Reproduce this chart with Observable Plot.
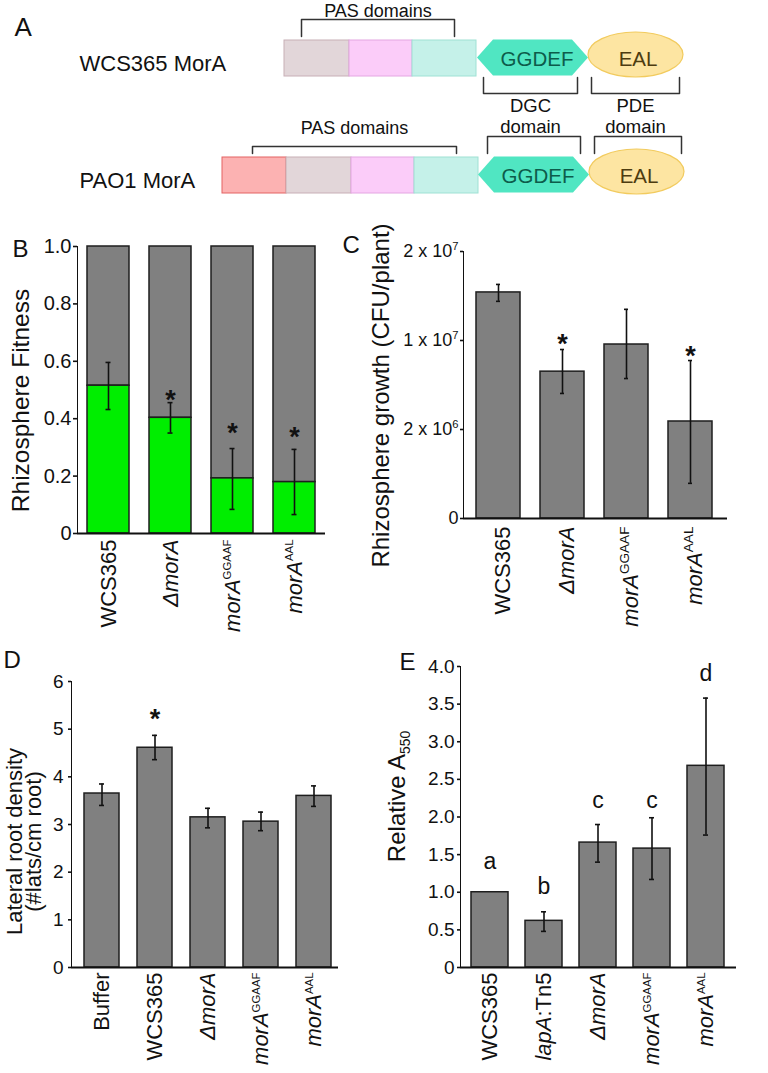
<!DOCTYPE html>
<html><head><meta charset="utf-8">
<script src="https://cdn.jsdelivr.net/npm/d3@7"></script>
<script src="https://cdn.jsdelivr.net/npm/@observablehq/plot@0.6"></script>
<style>
body{margin:0;background:#fff}
#fig{position:relative;width:768px;height:1073px;background:#fff;overflow:hidden}
#fig svg g[aria-label^="y-axis"] line, #fig svg g[aria-label^="y-axis"] path{stroke-width:1.6px}
#fig svg g[aria-label^="y-axis"]{font-size:inherit;font-family:inherit}
#fig svg g[aria-label="frame"], #fig svg g[aria-label="frame"] *{stroke-width:1.8px}
</style></head>
<body><div id="fig"></div>
<script>
// ---------- Panel A: MorA domain architecture ----------
const proteins = ["WCS365 MorA", "PAO1 MorA"];
const wcsDomains = [
  {domain: "PAS", kind: "pasB", start: 284, end: 349},
  {domain: "PAS", kind: "pasC", start: 349, end: 412},
  {domain: "PAS", kind: "pasD", start: 412, end: 476},
  {domain: "GGDEF", kind: "ggdef", start: 477, end: 588},
  {domain: "EAL", kind: "eal", start: 588, end: 683}
];
const paoDomains = [
  {domain: "PAS", kind: "pasA", start: 222, end: 286},
  {domain: "PAS", kind: "pasB", start: 286, end: 351},
  {domain: "PAS", kind: "pasC", start: 351, end: 414},
  {domain: "PAS", kind: "pasD", start: 414, end: 478},
  {domain: "GGDEF", kind: "ggdef", start: 478, end: 589},
  {domain: "EAL", kind: "eal", start: 589, end: 684}
];
const brackets = [
  {protein: "WCS365 MorA", label: "PAS domains", start: 301, end: 454, side: "above", reach: 39},
  {protein: "WCS365 MorA", label: "DGC\ndomain", start: 483, end: 577, side: "below", reach: 35},
  {protein: "WCS365 MorA", label: "PDE\ndomain", start: 591, end: 679, side: "below", reach: 35},
  {protein: "PAO1 MorA", label: "PAS domains", start: 252, end: 456, side: "above", reach: 29},
  {protein: "PAO1 MorA", label: "", start: 487, end: 580, side: "above", reach: 39},
  {protein: "PAO1 MorA", label: "", start: 594, end: 681, side: "above", reach: 39}
];

// ---------- Panel B: rhizosphere fitness (competition) ----------
const bStrains = ["WCS365", "ΔmorA", "morA^GGAAF", "morA^AAL"];
const bFitness = [0.515, 0.403, 0.192, 0.179];
const bErrLow  = [0.432, 0.350, 0.084, 0.066];
const bErrHigh = [0.596, 0.456, 0.296, 0.293];
const bStars   = [null, 0.49, 0.373, 0.359];
const bTicks   = [0, 0.2, 0.4, 0.6, 0.8, 1.0];

// ---------- Panel C: rhizosphere growth ----------
const cStrains = ["WCS365", "ΔmorA", "morA^GGAAF", "morA^AAL"];
const cGrowth  = [1.54e7, 7.2e6, 9.64e6, 2.72e6];
const cErrLow  = [1.44e7, 5.24e6, 6.58e6, 7.9e5];
const cErrHigh = [1.63e7, 9.19e6, 1.35e7, 8.2e6];
const cStars   = [null, 1.034e7, null, 9.19e6];
const cTickValues = [0, 2e6, 1e7, 2e7];
const cTickLabels = ["0", "2 x 10^6", "1 x 10^7", "2 x 10^7"];

// ---------- Panel D: lateral root density ----------
const dStrains = ["Buffer", "WCS365", "ΔmorA", "morA^GGAAF", "morA^AAL"];
const dDensity = [3.65, 4.61, 3.15, 3.06, 3.60];
const dErrLow  = [3.40, 4.36, 2.93, 2.87, 3.38];
const dErrHigh = [3.85, 4.87, 3.34, 3.26, 3.81];
const dStars   = [null, 5.35, null, null, null];
const dTicks   = [0, 1, 2, 3, 4, 5, 6];

// ---------- Panel E: biofilm (relative A550) ----------
const eStrains = ["WCS365", "lapA:Tn5", "ΔmorA", "morA^GGAAF", "morA^AAL"];
const eA550    = [1.00, 0.62, 1.66, 1.58, 2.68];
const eErrLow  = [null, 0.48, 1.40, 1.17, 1.76];
const eErrHigh = [null, 0.74, 1.90, 1.99, 3.58];
const eGroups  = ["a", "b", "c", "c", "d"];
const eGroupY  = [1.41, 1.08, 2.22, 2.22, 3.90];
const eTicks   = [0, 0.5, 1.0, 1.5, 2.0, 2.5, 3.0, 3.5, 4.0];

// ================= rendering =================
const FONT = "'Liberation Sans', Arial, Helvetica, sans-serif";
const W = 768, H = 1073;
const fig = document.getElementById("fig");
const INK = "#111";
function svgStyle(fs) {
  return `position:absolute;left:0;top:0;background:transparent;overflow:visible;max-width:none;font-family:${FONT};font-size:${fs}px;color:${INK};`;
}
function richify(svg, defaultFs, supScale) {
  const ns = "http://www.w3.org/2000/svg";
  svg.querySelectorAll("text").forEach(t => {
    if (t.querySelector("tspan")) return;
    const s = t.textContent;
    if (!/[\^_]|morA|lapA/.test(s)) return;
    const holder = t.closest("[font-size]");
    const lab = holder ? (holder.getAttribute("aria-label") || "") : "";
    const fs = holder && holder !== svg && !lab.includes("axis") ? parseFloat(holder.getAttribute("font-size")) : defaultFs;
    const m = s.match(/^([^\^_]*)(?:([\^_])(.*))?$/);
    t.textContent = "";
    m[1].split(/(Δ?morA|lapA)/).forEach(part => {
      if (!part) return;
      const sp = document.createElementNS(ns, "tspan");
      if (/morA|lapA/.test(part)) sp.setAttribute("font-style", "italic");
      sp.textContent = part;
      t.appendChild(sp);
    });
    if (m[2]) {
      const sup = m[2] === "^";
      const sp = document.createElementNS(ns, "tspan");
      sp.setAttribute("font-size", (fs * (sup ? supScale : 0.58)).toFixed(1));
      sp.setAttribute("dy", ((sup ? -0.38 : 0.2) * fs).toFixed(1));
      sp.textContent = m[3];
      t.appendChild(sp);
    }
  });
}
function add(svg, fs, supScale = 0.52) {
  svg.style.background = "transparent";
  fig.appendChild(svg);
  richify(svg, fs, supScale);
}
const xLabelOpts = {frameAnchor: "bottom", rotate: -90, textAnchor: "end", lineAnchor: "middle", fontSize: 22};
const yLabelOpts = {frameAnchor: "left", rotate: -90, textAnchor: "middle", lineAnchor: "middle"};
const letterOpts = {frameAnchor: "top-left", textAnchor: "start", lineAnchor: "middle", fontSize: 24};
const starOpts = {text: () => "*", fontSize: 27, fontWeight: "bold", lineAnchor: "middle", dy: 7};

// ----- Panel A -----
{
  const rowY = {"WCS365 MorA": 58, "PAO1 MorA": 175};
  const fillOf = {pasA: "#fcb2b2", pasB: "#e2d6d9", pasC: "#fbccf9", pasD: "#c5f1e9"};
  const strokeOf = {pasA: "#e46262", pasB: "#c8afb6", pasC: "#e4a6e2", pasD: "#9fe1d4"};
  const all = [
    ...wcsDomains.map(d => ({...d, protein: proteins[0]})),
    ...paoDomains.map(d => ({...d, protein: proteins[1]}))
  ];
  const pas = all.filter(d => d.domain === "PAS");
  const hex = all.filter(d => d.domain === "GGDEF");
  const eal = all.filter(d => d.domain === "EAL");
  const hexPts = hex.flatMap(d => {
    const c = rowY[d.protein] - 0.5;
    return [
      {protein: d.protein, x: d.start, y1: c, y2: c},
      {protein: d.protein, x: d.start + 16, y1: c - 18, y2: c + 18},
      {protein: d.protein, x: d.end - 16, y1: c - 18, y2: c + 18},
      {protein: d.protein, x: d.end, y1: c, y2: c}
    ];
  });
  const brPts = brackets.flatMap((b, i) => {
    const r = rowY[b.protein];
    const above = b.side === "above";
    const tip = above ? r - 22 : r + 19;
    const bar = above ? r - b.reach : r + b.reach;
    return [
      {id: i, x: b.start, y: tip}, {id: i, x: b.start, y: bar},
      {id: i, x: b.end, y: bar}, {id: i, x: b.end, y: tip}
    ];
  });
  const labAbove = brackets.filter(b => b.label && b.side === "above");
  const labBelow = brackets.filter(b => b.label && b.side === "below");
  const svg = Plot.plot({
    width: W, height: 200, margin: 0,
    style: svgStyle(18),
    x: {domain: [0, W], range: [0, W], axis: null},
    y: {domain: [0, 200], range: [0, 200], axis: null},
    marks: [
      Plot.rect(pas, {x1: "start", x2: "end", y1: d => rowY[d.protein] - 18, y2: d => rowY[d.protein] + 18,
        fill: d => fillOf[d.kind], stroke: d => strokeOf[d.kind], strokeWidth: 1}),
      Plot.areaY(hexPts, {x: "x", y1: "y1", y2: "y2", z: "protein", fill: "#50e6c2", curve: "linear"}),
      Plot.rect(eal, {x1: "start", x2: "end", y1: d => rowY[d.protein] - 26, y2: d => rowY[d.protein] + 19,
        fill: "#fde5a2", stroke: "#f2cb5e", strokeWidth: 1.2, rx: 300, ry: 300}),
      Plot.text(hex, {x: d => (d.start + d.end) / 2, y: d => rowY[d.protein] + 0.6, text: "domain",
        dx: 4, fontSize: 20.5, fill: "#0d5c4b"}),
      Plot.text(eal, {x: d => (d.start + d.end) / 2, y: d => rowY[d.protein] + 0.6, text: "domain",
        dx: 2, fontSize: 20.5, fill: "#4d3c10"}),
      Plot.line(brPts, {x: "x", y: "y", z: "id", stroke: "#333", strokeWidth: 1.5}),
      Plot.text(labAbove, {x: d => (d.start + d.end) / 2, y: d => rowY[d.protein] - 46.8, text: "label",
        fontSize: 18, fill: INK}),
      Plot.text(labBelow, {x: d => (d.start + d.end) / 2, y: d => rowY[d.protein] + 57, text: "label",
        fontSize: 18.5, lineHeight: 1.135, fill: INK}),
      Plot.text(proteins, {x: 79, y: d => rowY[d] + 5, text: d => d, textAnchor: "start", fontSize: 22, fill: INK}),
      Plot.text(["A"], {x: 14, y: 27, textAnchor: "start", fontSize: 26, fill: INK})
    ]
  });
  add(svg, 18);
}

// ----- Panel B -----
{
  const data = bStrains.map((s, i) => ({strain: s, fitness: bFitness[i], lo: bErrLow[i], hi: bErrHigh[i], star: bStars[i]}));
  const L = 77, T = 246, R = 325, B = 533;
  const svg = Plot.plot({
    width: W, height: H, marginLeft: L, marginRight: W - R, marginTop: T, marginBottom: H - B,
    style: svgStyle(20),
    x: {domain: bStrains, paddingInner: 0.32, paddingOuter: 0.16, axis: null},
    y: {domain: [0, 1], ticks: bTicks, tickFormat: d => d === 0 ? "0" : d.toFixed(1), tickSize: 4, tickPadding: 2, line: true, label: null},
    marks: [
      Plot.barY(data, {x: "strain", y1: "fitness", y2: 1, fill: "#808080", stroke: "#1e1e1e", strokeWidth: 1.5}),
      Plot.barY(data, {x: "strain", y1: 0, y2: "fitness", fill: "#00ee00", stroke: "#1e1e1e", strokeWidth: 1.5}),
      Plot.ruleX(data, {x: "strain", y1: "lo", y2: "hi", stroke: INK, strokeWidth: 1.6}),
      Plot.tickY(data, {x: "strain", y: "lo", stroke: INK, strokeWidth: 1.6, insetLeft: 18.5, insetRight: 18.5}),
      Plot.tickY(data, {x: "strain", y: "hi", stroke: INK, strokeWidth: 1.6, insetLeft: 18.5, insetRight: 18.5}),
      Plot.ruleY([0], {stroke: INK, strokeWidth: 2}),
      Plot.text(data.filter(d => d.star != null), {x: "strain", y: "star", ...starOpts}),
      Plot.text(bStrains, {x: d => d, ...xLabelOpts, dy: 6}),
      Plot.text(["B"], {...letterOpts, dx: -65, dy: 3.3}),
      Plot.text(["Rhizosphere Fitness"], {...yLabelOpts, fontSize: 24.5, dx: -56, dy: 10.5})
    ]
  });
  add(svg, 20);
}

// ----- Panel C -----
{
  const data = cStrains.map((s, i) => ({strain: s, growth: cGrowth[i], lo: cErrLow[i], hi: cErrHigh[i], star: cStars[i]}));
  const L = 463, T = 251, R = 727, B = 518;
  const svg = Plot.plot({
    width: W, height: H, marginLeft: L, marginRight: W - R, marginTop: T, marginBottom: H - B,
    style: svgStyle(18),
    x: {domain: cStrains, paddingInner: 0.32, paddingOuter: 0.21, align: 0.45, axis: null},
    y: {type: "linear", domain: cTickValues, ticks: cTickValues, tickFormat: d => cTickLabels[cTickValues.indexOf(d)],
        tickSize: 3, tickPadding: 2, line: true, label: null},
    marks: [
      Plot.barY(data, {x: "strain", y: "growth", fill: "#808080", stroke: "#1e1e1e", strokeWidth: 1.5}),
      Plot.ruleX(data, {x: "strain", y1: "lo", y2: "hi", stroke: INK, strokeWidth: 1.6}),
      Plot.tickY(data, {x: "strain", y: "lo", stroke: INK, strokeWidth: 1.6, insetLeft: 20, insetRight: 20}),
      Plot.tickY(data, {x: "strain", y: "hi", stroke: INK, strokeWidth: 1.6, insetLeft: 20, insetRight: 20}),
      Plot.ruleY([0], {stroke: INK, strokeWidth: 2}),
      Plot.text(data.filter(d => d.star != null), {x: "strain", y: "star", ...starOpts}),
      Plot.text(cStrains, {x: d => d, ...xLabelOpts, dy: 8, dx: 4}),
      Plot.text(["C"], {...letterOpts, dx: -121, dy: -5.7}),
      Plot.text(["Rhizosphere growth (CFU/plant)"], {...yLabelOpts, fontSize: 24, dx: -82, dy: 10.5})
    ]
  });
  add(svg, 18, 0.62);
}

// ----- Panel D -----
{
  const data = dStrains.map((s, i) => ({strain: s, density: dDensity[i], lo: dErrLow[i], hi: dErrHigh[i], star: dStars[i]}));
  const L = 71, T = 681, R = 338, B = 967;
  const svg = Plot.plot({
    width: W, height: H, marginLeft: L, marginRight: W - R, marginTop: T, marginBottom: H - B,
    style: svgStyle(19),
    x: {domain: dStrains, paddingInner: 0.343, paddingOuter: 0.1785, align: 0.63, axis: null},
    y: {domain: [0, 6], ticks: dTicks, tickFormat: d => String(d), tickSize: 3, tickPadding: 5, line: true, label: null},
    marks: [
      Plot.barY(data, {x: "strain", y: "density", fill: "#808080", stroke: "#1e1e1e", strokeWidth: 1.5}),
      Plot.ruleX(data, {x: "strain", y1: "lo", y2: "hi", stroke: INK, strokeWidth: 1.6}),
      Plot.tickY(data, {x: "strain", y: "lo", stroke: INK, strokeWidth: 1.6, insetLeft: 15, insetRight: 15}),
      Plot.tickY(data, {x: "strain", y: "hi", stroke: INK, strokeWidth: 1.6, insetLeft: 15, insetRight: 15}),
      Plot.ruleY([0], {stroke: INK, strokeWidth: 2}),
      Plot.text(data.filter(d => d.star != null), {x: "strain", y: "star", ...starOpts}),
      Plot.text(dStrains, {x: d => d, ...xLabelOpts, dy: 5}),
      Plot.text(["D"], {...letterOpts, dx: -68, dy: -20.7}),
      Plot.text(["Lateral root density\n(#lats/cm root)"], {...yLabelOpts, fontSize: 22, lineHeight: 0.87, dx: -46.5, dy: 17})
    ]
  });
  add(svg, 19);
}

// ----- Panel E -----
{
  const data = eStrains.map((s, i) => ({strain: s, a550: eA550[i], lo: eErrLow[i], hi: eErrHigh[i], group: eGroups[i], gy: eGroupY[i]}));
  const errs = data.filter(d => d.lo != null);
  const L = 460, T = 666, R = 736, B = 967;
  const svg = Plot.plot({
    width: W, height: H, marginLeft: L, marginRight: W - R, marginTop: T, marginBottom: H - B,
    style: svgStyle(19),
    x: {domain: eStrains, paddingInner: 0.32, paddingOuter: 0.1735, align: 0.47, axis: null},
    y: {domain: [0, 4], ticks: eTicks, tickFormat: d => d === 0 ? "0" : d.toFixed(1), tickSize: 3, tickPadding: 3, line: true, label: null},
    marks: [
      Plot.barY(data, {x: "strain", y: "a550", fill: "#808080", stroke: "#1e1e1e", strokeWidth: 1.5}),
      Plot.ruleX(errs, {x: "strain", y1: "lo", y2: "hi", stroke: INK, strokeWidth: 1.6}),
      Plot.tickY(errs, {x: "strain", y: "lo", stroke: INK, strokeWidth: 1.6, insetLeft: 16, insetRight: 16}),
      Plot.tickY(errs, {x: "strain", y: "hi", stroke: INK, strokeWidth: 1.6, insetLeft: 16, insetRight: 16}),
      Plot.ruleY([0], {stroke: INK, strokeWidth: 2}),
      Plot.text(data, {x: "strain", y: "gy", text: "group", fontSize: 23, lineAnchor: "middle"}),
      Plot.text(eStrains, {x: d => d, ...xLabelOpts, dy: 5}),
      Plot.text(["E"], {...letterOpts, dx: -61, dy: -3.7}),
      Plot.text(["Relative A_550"], {...yLabelOpts, fontSize: 24, dx: -63, dy: -20.5})
    ]
  });
  add(svg, 19);
}
</script></body></html>
